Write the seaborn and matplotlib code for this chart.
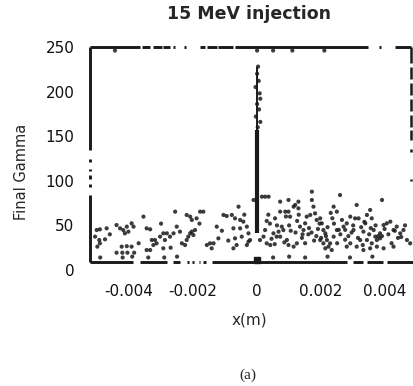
import numpy as np
import pandas as pd
import seaborn as sns
import matplotlib
matplotlib.use("Agg")
import matplotlib.pyplot as plt

# scattered particles, x in mm, final gamma
x_mm = [
    # left cluster
    -5.01, -4.91, -4.70, -5.06, -4.93, -4.75, -4.99, -4.91,
    -4.39, -4.28, -4.18, -4.07, -3.92, -3.86, -4.02, -4.13,
    -4.39, -4.21, -4.05, -3.84, -4.23, -4.07, -3.92,
    -3.55, -3.45, -3.34, -3.29, -3.19, -3.14, -3.24,
    -3.03, -2.93, -2.82, -2.72, -2.88, -3.45, -3.34, -2.93,
    -2.56, -2.51, -2.61, -2.41,
    -2.35, -2.25, -2.20, -2.15, -2.09, -2.04, -1.99, -1.94,
    -2.20, -2.09, -2.04, -1.89, -1.78, -1.68,
    -1.57, -1.47, -1.36, -1.42, -1.26, -1.21,
    -1.05, -0.95, -0.79, -0.69, -0.58,
    -0.74, -0.69, -0.64, -0.53, -0.48, -0.32, -0.27, -0.53, -0.43,
    -0.32, -0.27, -0.22, -0.74, -0.11,
    -4.60, -3.70, -3.00, -2.70, -1.80, -1.10, -0.90, -0.40,
    # right of the spike
    0.15, 0.25, 0.36,
    0.09, 0.20, 0.25, 0.30, 0.41,
    0.51, 0.61, 0.67, 0.72, 0.82, 0.77, 0.56, 0.72, 0.88, 0.98, 1.03,
    0.72, 0.98, 1.14, 1.29, 1.19, 1.29,
    0.93, 0.98, 1.14, 1.24,
    1.34, 1.45, 1.50, 1.55, 1.66, 1.71, 1.71, 1.76, 1.81, 1.86,
    1.97, 2.02, 2.07, 2.13, 2.18, 2.28, 2.39, 2.49,
    2.39, 2.49, 2.59, 2.65, 2.70, 2.80, 2.91, 3.01, 3.06,
    3.11, 3.17, 3.22, 3.32, 3.38, 3.43, 3.53, 3.58,
    3.64, 3.69, 3.74, 3.84, 3.90, 3.95, 4.05, 4.16, 4.26, 4.36, 4.47, 4.57, 4.68, 4.78,
    1.97, 2.07, 2.13, 2.23, 2.33,
    2.80, 2.91, 3.11, 3.32, 3.53, 3.74, 3.95, 4.26,
    3.43, 3.58, 3.84,
    1.00, 1.20, 1.40, 1.60, 1.90, 2.20, 2.40, 2.60, 2.85, 3.00, 3.25, 3.50, 3.70,
    1.50, 2.50, 4.10, 4.40, 0.40, 0.35, 1.85, 2.00,
    0.45, 0.62, 0.85, 1.05, 1.25, 1.42, 1.62, 1.78, 1.95, 2.15, 2.35, 2.55,
    2.75, 2.95, 3.15, 3.35, 3.55, 3.78, 3.98, 4.20, 4.50, 4.62,
    0.30, 0.55, 0.90, 1.30, 1.70, 2.30, 2.75, 3.30, 3.90, 4.30,
    # along the spike
    0.03, 0.00, 0.05, -0.05, 0.08, 0.10, 0.00, 0.06, -0.04, 0.10, 0.02,
    # just above the bottom line
    -4.90, -4.20, -3.90, -3.40, -2.90, -2.50, 0.50, 1.00, 1.50, 2.20, 2.90, 3.60,
    # just below the top line
    -4.44, 0.00, 0.50, 1.10, 2.10,
]
gamma = [
    44.8, 45.6, 46.7, 37.4, 33.6, 34.4, 26.2, 29.9,
    50.4, 46.7, 44.8, 48.6, 52.3, 48.6, 43.0, 41.1,
    19.4, 19.4, 19.4, 19.4, 26.2, 26.7, 26.2,
    59.8, 46.7, 45.6, 33.6, 33.6, 29.9, 28.0,
    37.4, 41.1, 41.1, 37.4, 33.6, 22.4, 22.4, 24.3,
    65.4, 48.6, 41.1, 43.0,
    29.9, 28.0, 33.6, 37.4, 41.1, 43.0, 39.2, 44.8,
    61.7, 59.8, 56.1, 57.9, 65.4, 65.4,
    28.0, 29.9, 29.9, 24.3, 48.6, 35.5,
    61.7, 60.5, 61.7, 57.9, 71.0,
    46.7, 35.5, 28.0, 46.7, 37.4, 48.6, 41.1, 56.1, 54.2,
    28.0, 31.8, 33.6, 24.3, 78.5,
    40.0, 30.0, 52.0, 25.0, 52.0, 44.0, 33.0, 62.0,
    82.2, 82.2, 82.2,
    33.6, 37.4, 44.8, 29.9, 28.0,
    41.1, 37.4, 43.0, 37.4, 44.8, 48.6, 57.9, 65.4, 65.4, 65.4, 59.8,
    76.6, 78.5, 71.0, 76.6, 72.9, 69.1,
    33.6, 28.0, 26.2, 29.9,
    48.6, 44.8, 52.3, 59.8, 61.7, 87.8, 78.5, 71.0, 63.5, 56.1,
    57.9, 52.3, 44.8, 41.1, 33.6, 29.9, 37.4, 44.8,
    71.0, 65.4, 84.0, 56.1, 48.6, 52.3, 59.8, 44.8, 57.9,
    72.9, 57.9, 33.6, 43.0, 52.3, 61.7, 67.3, 57.9,
    44.8, 37.4, 33.6, 41.1, 78.5, 50.4, 52.3, 54.2, 44.8, 48.6, 41.1, 44.8, 33.6, 29.9,
    33.6, 29.9, 24.3, 26.2, 22.4,
    26.2, 29.9, 26.2, 22.4, 24.3, 26.2, 24.3, 26.2,
    33.6, 29.9, 35.5,
    50.0, 42.0, 36.0, 40.0, 46.0, 48.0, 52.0, 40.0, 38.0, 50.0, 48.0, 40.0, 50.0,
    30.0, 30.0, 40.0, 36.0, 52.0, 62.0, 38.0, 36.0,
    35.0, 50.0, 31.0, 44.0, 55.0, 40.0, 47.0, 33.0, 52.0, 38.0, 58.0, 45.0,
    34.0, 42.0, 36.0, 54.0, 47.0, 38.0, 46.0, 30.0, 37.0, 50.0,
    55.0, 29.0, 60.0, 62.0, 42.0, 64.0, 45.0, 28.0, 38.0, 44.0,
    228, 220, 212, 205, 198, 192, 186, 180, 172, 166, 160,
    14, 14, 15, 14, 14, 15, 14, 15, 14, 15, 14, 15,
    246, 246, 246, 246, 246,
]

# particles piled up on the boundaries, drawn as runs (mm / gamma)
box_left, box_right = -5.22, 4.82
y_top, y_bottom = 250, 9.3
top_start = [-5.22, -3.59, -3.25, -2.94, -2.64, -2.28, -1.78, -1.56, -1.22, -0.69, 3.80, 4.31]
top_end = [-3.66, -3.34, -2.97, -2.72, -2.58, -2.22, -1.63, -1.25, -0.75, 3.47, 3.86, 4.82]
bottom_start = [-5.22, -3.66, -2.63, -2.20, -2.03, -1.83, -1.68, -1.41, 3.00, 3.44, 4.06]
bottom_end = [-3.88, -2.81, -2.41, -2.12, -1.97, -1.77, -1.60, 2.81, 3.31, 3.94, 4.90]
left_start = [134, 121.5, 110.5, 102, 93.5, 9.3]
left_end = [250, 124.5, 113.5, 106, 96.5, 84]
right_start = [232, 214, 196, 178, 160, 146, 132.5, 99.5]
right_end = [250, 228, 210, 192, 174, 157, 135.5, 102.5]
spike_x = 0.0
spike_thick = (42, 157)
spike_thin = (157, 228)

df = pd.DataFrame({"x": np.array(x_mm) * 1e-3, "gamma": gamma})

sns.set_style("white")
plt.rcParams['font.family'] = ['DejaVu Sans']
ink = "#1a1a1a"

fig = plt.figure(figsize=(4.14, 3.86), dpi=100)
ax = fig.add_axes([0.2034, 0.3005, 0.7966, 0.5894])

sns.scatterplot(data=df, x="x", y="gamma", ax=ax, s=9, color=ink,
                edgecolor="none", alpha=0.85, legend=False)


def runs_h(y, starts, ends, lw):
    ax.hlines(np.full(len(starts), y), np.array(starts) * 1e-3,
              np.array(ends) * 1e-3, color=ink, lw=lw)


def runs_v(x, starts, ends, lw):
    ax.vlines(np.full(len(starts), x * 1e-3), starts, ends, color=ink, lw=lw)


runs_h(y_top, top_start, top_end, 2.1)
runs_h(y_bottom, bottom_start, bottom_end, 2.1)
runs_v(box_left, left_start, left_end, 2.1)
runs_v(box_right, right_start, right_end, 1.8)
ax.vlines(spike_x, *spike_thick, color=ink, lw=3.0)
ax.vlines(spike_x, *spike_thin, color=ink, lw=1.4)
ax.plot([spike_x], [11], marker="s", ms=4, color=ink)

ax.set_xlim(-5.4e-3, 4.9e-3)
ax.set_ylim(0, 255)
ax.set_xticks([-0.004, -0.002, 0, 0.002, 0.004])
ax.set_xticklabels(["-0.004", "-0.002", "0", "0.002", "0.004"])
ax.set_yticks([0, 50, 100, 150, 200, 250])
ax.tick_params(axis="both", length=0, labelsize=11, colors="#111111")
ax.tick_params(axis="x", pad=10)
ax.tick_params(axis="y", pad=7)
for s in ax.spines.values():
    s.set_visible(False)

ax.set_title("15 MeV injection", fontsize=12.5, fontweight="bold", pad=17)
ax.set_xlabel("x(m)", fontsize=11)
ax.set_ylabel("Final Gamma", fontsize=10.5)
ax.xaxis.set_label_coords(0.5, -0.22)
ax.xaxis.label.set_va("center")
ax.yaxis.set_label_coords(-0.189, 0.43)
ax.yaxis.label.set_va("center")

fig.text(0.599, 0.0285, "(a)", family="Liberation Serif", fontsize=11,
         ha="center", va="center")

fig.savefig("out.png", dpi=100)
